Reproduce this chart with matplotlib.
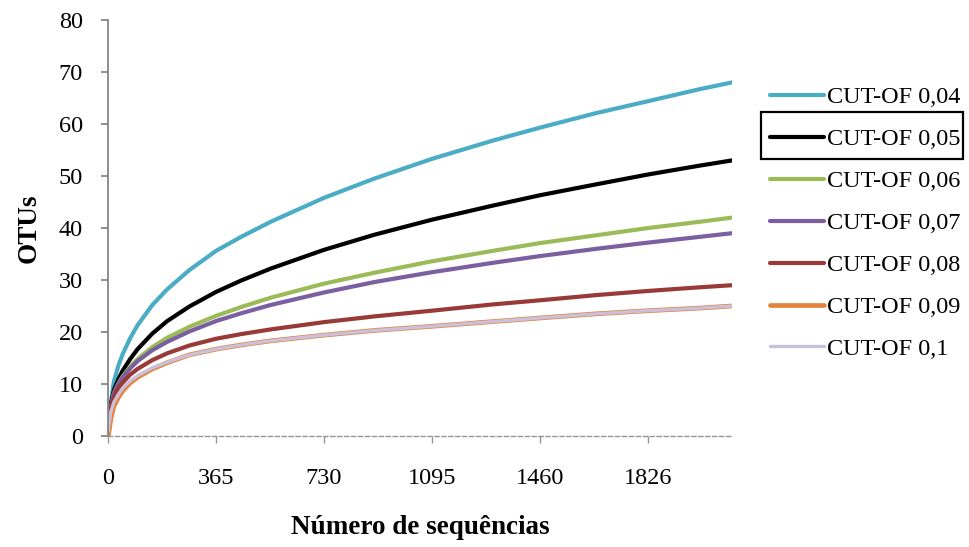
import matplotlib
matplotlib.use('Agg')
import matplotlib.pyplot as plt
from matplotlib.patches import Rectangle

plt.rcParams['font.family'] = ['Liberation Serif', 'DejaVu Serif']

# numero de sequencias amostradas
seqs = [1, 5, 10, 20, 35, 50, 75, 100, 150, 200, 275, 365, 450, 550, 730, 900, 1095, 1300, 1460, 1650, 1826, 2000, 2109]

otu_004 = [1, 3.8, 6.5, 10.5, 13.5, 15.8, 18.8, 21.3, 25.2, 28.2, 31.9, 35.6, 38.3, 41.2, 45.8, 49.5, 53.3, 56.8, 59.3, 62.1, 64.4, 66.7, 68.0]
otu_005 = [1, 3.6, 6.2, 8.8, 10.9, 12.6, 14.8, 16.7, 19.7, 22.1, 24.9, 27.7, 29.9, 32.2, 35.8, 38.7, 41.6, 44.3, 46.3, 48.4, 50.3, 52.0, 53.0]
otu_006 = [1, 3.4, 5.6, 8.2, 10.1, 11.5, 13.3, 14.8, 17.1, 18.9, 21.0, 23.1, 24.8, 26.6, 29.3, 31.4, 33.6, 35.6, 37.1, 38.6, 40.0, 41.2, 42.0]
otu_007 = [1, 3.3, 5.5, 8.2, 10.0, 11.3, 13.0, 14.4, 16.5, 18.1, 20.1, 22.1, 23.6, 25.2, 27.6, 29.6, 31.5, 33.3, 34.6, 36.0, 37.2, 38.3, 39.0]
otu_008 = [1, 3.2, 5.3, 7.6, 9.2, 10.3, 11.8, 12.9, 14.6, 15.9, 17.4, 18.7, 19.6, 20.5, 21.9, 23.0, 24.1, 25.3, 26.1, 27.1, 27.9, 28.6, 29.0]
otu_009 = [0, 1.5, 3.4, 5.7, 7.4, 8.7, 10.2, 11.3, 12.9, 14.1, 15.6, 16.7, 17.5, 18.3, 19.4, 20.3, 21.1, 22.0, 22.7, 23.5, 24.1, 24.6, 25.0]
otu_010 = [1, 2.9, 4.7, 6.5, 8.0, 9.2, 10.6, 11.6, 13.1, 14.2, 15.6, 16.7, 17.5, 18.3, 19.4, 20.3, 21.1, 22.0, 22.7, 23.5, 24.1, 24.6, 25.0]

series = [
    ('CUT-OF 0,04', otu_004, '#4BACC6', 3.0),
    ('CUT-OF 0,05', otu_005, '#000000', 3.0),
    ('CUT-OF 0,06', otu_006, '#9BBB59', 3.0),
    ('CUT-OF 0,07', otu_007, '#7B5FA0', 3.0),
    ('CUT-OF 0,08', otu_008, '#983A37', 3.0),
    ('CUT-OF 0,09', otu_009, '#E4843C', 3.4),
    ('CUT-OF 0,1', otu_010, '#CBC0DC', 2.4),
]

xticks = [0, 365, 730, 1095, 1460, 1826]

fig = plt.figure(figsize=(9.7, 5.47), dpi=100)
ax = fig.add_axes([0.1113, 0.2029, 0.6433, 0.7605])

for nome, vals, cor, lw in series:
    ax.plot(seqs, vals, color=cor, lw=lw, label=nome, solid_capstyle='round')

ax.set_xlim(0, 2109)
ax.set_ylim(0, 80)
ax.set_yticks(range(0, 81, 10))
ax.set_xticks(xticks)

for s in ['top', 'right']:
    ax.spines[s].set_visible(False)
ax.spines['left'].set_color('#868686')
ax.spines['left'].set_linewidth(1.3)
ax.spines['bottom'].set_color('#969696')
ax.spines['bottom'].set_linestyle((0, (3, 2)))
ax.spines['bottom'].set_linewidth(1.0)

ax.tick_params(axis='y', direction='out', length=5, width=1.3, color='#868686',
               labelsize=17.5, pad=13)
ax.tick_params(axis='x', direction='out', length=5, width=1.0, color='#969696',
               labelsize=17.5, pad=18)

ax.set_ylabel('OTUs', fontsize=19.5, fontweight='bold', labelpad=12)
ax.set_xlabel('Número de sequências', fontsize=19.5, fontweight='bold', labelpad=19)

leg = fig.legend(loc='upper left', bbox_to_anchor=(0.784, 0.86), frameon=False,
                 fontsize=17.5, handlelength=2.2, handletextpad=0.15,
                 labelspacing=0.82, borderaxespad=0)

# caixa de selecao em volta da entrada 0,05
fig.patches.append(Rectangle((0.7842, 0.7099), 0.2082, 0.0848, transform=fig.transFigure,
                             fill=False, edgecolor='black', lw=1.6))

plt.savefig('out.png', dpi=100)
